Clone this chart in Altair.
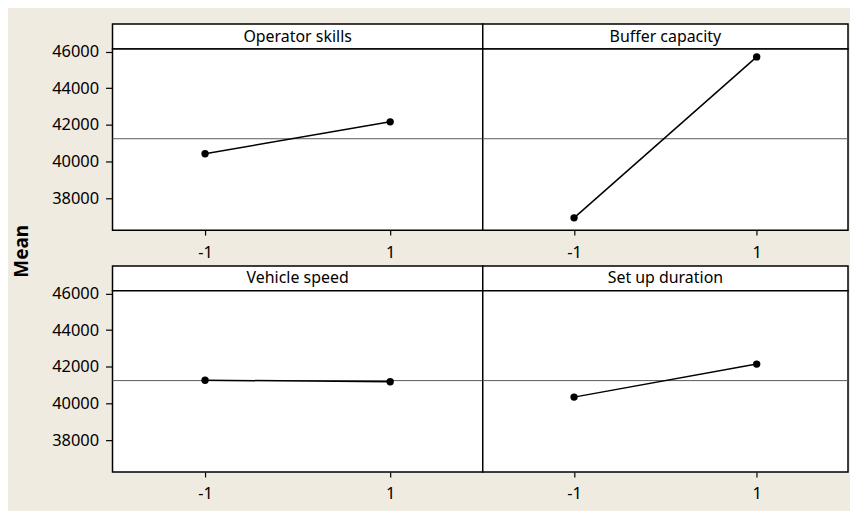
import altair as alt
import pandas as pd

factors = ["Operator skills", "Buffer capacity", "Vehicle speed", "Set up duration"]
levels = [-1, 1]
means_operator = [40430, 42170]
means_buffer = [36940, 45710]
means_vehicle = [41270, 41190]
means_setup = [40350, 42150]
grand_mean = 41250
y_ticks = [38000, 40000, 42000, 44000, 46000]
x_ticks = [-1, 1]

series = [means_operator, means_buffer, means_vehicle, means_setup]

FONT = "Noto Sans"
BG = "#EFEBE1"
Y_DOMAIN = [36270, 46140]
X_DOMAIN = [-2, 2]
W_LEFT, W_RIGHT = 372, 367
H_HEAD, H_PLOT, H_GAP = 25, 182, 36


def header(name, width):
    return (
        alt.Chart(pd.DataFrame({"name": [name]}))
        .mark_text(font=FONT, fontSize=16, color="black", baseline="middle", align="center")
        .encode(
            x=alt.X("name:N", axis=None, scale=alt.Scale(paddingInner=0, paddingOuter=0)),
            text="name:N",
        )
        .properties(
            width=width, height=H_HEAD,
            view=alt.ViewBackground(fill="white", stroke="black", strokeWidth=1.5),
        )
    )


def spacer(width):
    return (
        alt.Chart(pd.DataFrame({"t": [""]}))
        .mark_text()
        .encode(text="t:N")
        .properties(
            width=width, height=H_GAP,
            view=alt.ViewBackground(fill="transparent", stroke="transparent"),
        )
    )


def panel(values, width, show_y):
    df = pd.DataFrame({"level": levels, "mean": values})
    gm = pd.DataFrame({"mean": [grand_mean]})
    yscale = alt.Scale(domain=Y_DOMAIN, nice=False, zero=False)
    xscale = alt.Scale(domain=X_DOMAIN, nice=False, zero=False)
    if show_y:
        yaxis = alt.Axis(values=y_ticks, format="d", tickSize=7, labelPadding=7, title=None)
    else:
        yaxis = None
    xaxis = alt.Axis(values=x_ticks, labelExpr="'' + datum.value", tickSize=5,
                     labelPadding=9, title=None)

    rule = alt.Chart(gm).mark_rule(color="#5a5a5a", strokeWidth=1).encode(
        y=alt.Y("mean:Q", scale=yscale, axis=yaxis)
    )
    line = alt.Chart(df).mark_line(
        color="black", strokeWidth=1.5,
        point=alt.OverlayMarkDef(filled=True, color="black", size=55, opacity=1),
    ).encode(
        x=alt.X("level:Q", scale=xscale, axis=xaxis),
        y=alt.Y("mean:Q", scale=yscale, axis=yaxis),
    )
    return alt.layer(rule, line).properties(
        width=width, height=H_PLOT,
        view=alt.ViewBackground(fill="white", stroke="black", strokeWidth=1.5),
    )


chart = (
    alt.concat(
        header(factors[0], W_LEFT), header(factors[1], W_RIGHT),
        panel(series[0], W_LEFT, True), panel(series[1], W_RIGHT, False),
        spacer(W_LEFT), spacer(W_RIGHT),
        header(factors[2], W_LEFT), header(factors[3], W_RIGHT),
        panel(series[2], W_LEFT, True), panel(series[3], W_RIGHT, False),
        columns=2, spacing=0, align="each", bounds="flush",
    )
    .properties(
        background=BG,
        padding={"left": 5, "top": 14, "right": 0, "bottom": 6},
        title=alt.TitleParams(
            "Mean", orient="left", anchor="middle", font=FONT, fontSize=19,
            fontWeight="bold", color="black", offset=19, dx=12,
        ),
    )
    .configure_view(stroke="black", strokeWidth=1.5, fill="white")
    .configure_axis(
        labelFont=FONT, labelFontSize=16.5, labelColor="black",
        tickColor="black", tickWidth=1.2, domain=False, grid=False,
    )
)

chart.save("out.html", embed_options={"renderer": "svg", "actions": False})
